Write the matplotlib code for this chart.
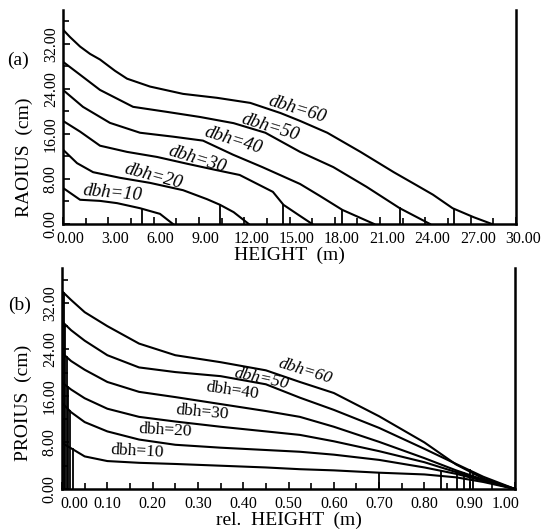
import matplotlib.pyplot as plt
import matplotlib.transforms as mtransforms
import numpy as np
from matplotlib.ticker import FormatStrFormatter

plt.rcParams['font.family'] = ['Liberation Serif', 'DejaVu Serif']

# ---- panel (a): radius vs height, one list pair per dbh class ----
h10 = [0, 1.13, 2.45, 3.58, 5.1, 6.42, 7.28]
r10 = [6.4, 4.3, 4.1, 3.7, 2.8, 1.8, 0]
h20 = [0, 0.93, 1.99, 3.77, 5.76, 7.95, 9.54, 10.4, 11.3, 12.3]
r20 = [13.2, 10.8, 9.2, 8.2, 7.3, 6.0, 4.4, 3.4, 2.1, 0]
h30 = [0, 1.13, 2.45, 4.24, 6.23, 8.21, 10.1, 11.7, 13.9, 14.6, 15.6, 16.5]
r30 = [18.3, 16.4, 13.9, 12.8, 11.9, 10.7, 9.6, 8.7, 5.7, 3.4, 1.6, 0]
h40 = [0, 1.32, 3.11, 5.1, 7.3, 9.27, 11.26, 13.2, 15.7, 17.0, 18.5, 20.6]
r40 = [23.8, 20.8, 17.95, 16.2, 15.5, 14.8, 12.3, 10.1, 7.1, 5.0, 2.5, 0]
h50 = [0, 1.13, 2.45, 4.64, 6.89, 9.07, 11.3, 13.4, 15.7, 17.9, 20.1, 22.3, 24.3]
r50 = [28.8, 26.5, 23.8, 20.8, 19.9, 19.0, 17.9, 16.2, 12.8, 10.1, 6.6, 2.8, 0]
h60 = [0, 0.46, 1.13, 1.79, 2.45, 3.44, 4.24, 5.76, 7.95, 10.2, 12.4, 14.4,
       15.7, 17.5, 19.7, 21.9, 23.4, 24.5, 25.8, 27.2, 28.4]
r60 = [34.5, 33.2, 31.5, 30.2, 29.2, 27.2, 25.8, 24.4, 23.1, 22.4, 21.5, 19.7,
       18.3, 16.2, 12.8, 9.2, 6.9, 5.2, 2.8, 1.2, 0]
crown_a = [5.2, 10.4, 14.6, 18.5, 22.3, 25.9]

# ---- panel (b): radius vs relative height ----
rel_h = [0, 0.02, 0.05, 0.10, 0.17, 0.25, 0.35, 0.45, 0.525, 0.60, 0.70, 0.80, 0.87, 0.93, 1.0]
b10 = [7.9, 7.0, 5.6, 4.8, 4.5, 4.3, 4.0, 3.7, 3.4, 3.2, 2.8, 2.5, 2.0, 1.2, 0]
b20 = [14.8, 13.2, 11.5, 9.9, 8.5, 7.6, 7.1, 6.7, 6.4, 5.9, 5.0, 3.7, 2.6, 1.4, 0]
b30 = [18.3, 17.1, 15.6, 13.8, 12.4, 11.6, 10.7, 9.9, 9.3, 8.2, 6.5, 4.6, 2.9, 1.5, 0]
b40 = [23.4, 22.0, 20.5, 18.4, 16.7, 15.8, 14.6, 13.4, 12.4, 10.7, 8.1, 5.3, 3.2, 1.6, 0]
b50 = [28.8, 27.3, 25.5, 23.0, 20.9, 20.1, 19.4, 18.0, 15.7, 13.6, 10.5, 6.9, 4.3, 2.1, 0]
b60 = [34.0, 32.5, 30.4, 28.0, 25.0, 23.0, 21.8, 20.4, 18.4, 16.5, 12.5, 8.0, 4.2, 1.8, 0]
crown_b = [0.70, 0.837, 0.872, 0.887, 0.90, 0.907]
butt_b = [0.024, 0.017, 0.013, 0.010, 0.007, 0.004]

dbh = [10, 20, 30, 40, 50, 60]
curves_a = [(h10, r10), (h20, r20), (h30, r30), (h40, r40), (h50, r50), (h60, r60)]
curves_b = [b10, b20, b30, b40, b50, b60]

# label placement (x, y, angle)
lab_a = [(3.3, 5.5, -5), (6.0, 8.4, -15), (8.9, 11.4, -17),
         (11.3, 14.9, -17), (13.7, 17.1, -17), (15.5, 20.3, -17)]
lab_b = [(0.166, 6.4, -3), (0.227, 10.0, -3), (0.31, 13.2, -5),
         (0.375, 16.9, -8), (0.44, 19.0, -12), (0.536, 20.3, -17)]

fig = plt.figure(figsize=(5.46, 5.30), dpi=100)
ax1 = fig.add_axes([0.1154, 0.5774, 0.8297, 0.4038])
ax2 = fig.add_axes([0.1136, 0.0774, 0.8297, 0.417])


def style(ax, xmax, major, minor):
    ax.set_xlim(0, xmax)
    ax.set_ylim(0, 38)
    ax.spines['top'].set_visible(False)
    for s in ['left', 'bottom', 'right']:
        ax.spines[s].set_linewidth(1.8)
    ax.set_xticks(np.arange(0, xmax + 1e-9, major))
    ax.set_xticks(np.arange(0, xmax + 1e-9, minor), minor=True)
    ax.xaxis.set_major_formatter(FormatStrFormatter('%.2f'))
    ax.set_yticks([0, 8, 16, 24, 32])
    ax.set_yticks(np.arange(0, 37, 4), minor=True)
    ax.yaxis.set_major_formatter(FormatStrFormatter('%.2f'))
    ax.tick_params(direction='in', which='both', width=1.2, labelsize=11.5, pad=3)
    ax.tick_params(axis='x', pad=5)
    ax.tick_params(which='major', length=5)
    ax.tick_params(which='minor', length=4)
    plt.setp(ax.get_yticklabels(), rotation=90, va='center')


def shift(lab, dx):
    off = mtransforms.ScaledTranslation(dx / 100, 0, fig.dpi_scale_trans)
    lab.set_transform(lab.get_transform() + off)


style(ax1, 30, 3, 1.5)
style(ax2, 1.0, 0.1, 0.05)

# tick labels of the scan sit a little right of their ticks in (a)
for t in ax1.xaxis.get_major_ticks():
    shift(t.label1, 7)
ticks_b = ax2.xaxis.get_major_ticks()
shift(ticks_b[0].label1, 12)
shift(ticks_b[-1].label1, -9)

for i, (h, r) in enumerate(curves_a):
    ax1.plot(h, r, color='black', lw=1.5)
    top = np.interp(crown_a[i], h, r)
    ax1.plot([crown_a[i], crown_a[i]], [0, top], color='black', lw=1.3)
    x, y, a = lab_a[i]
    ax1.text(x, y, 'dbh=%d' % dbh[i], rotation=a, style='italic',
             fontsize=13.5, ha='center', va='center')

for i, r in enumerate(curves_b):
    ax2.plot(rel_h, r, color='black', lw=1.5)
    top = np.interp(crown_b[i], rel_h, r)
    ax2.plot([crown_b[i], crown_b[i]], [0, top], color='black', lw=1.3)
    top = np.interp(butt_b[i], rel_h, r)
    ax2.plot([butt_b[i], butt_b[i]], [0, top], color='black', lw=1.3)
    x, y, a = lab_b[i]
    ax2.text(x, y, 'dbh=%d' % dbh[i], rotation=a,
             style='italic' if dbh[i] >= 50 else 'normal',
             fontsize=12.5, ha='center', va='center')

ax1.set_xlabel('HEIGHT  (m)', fontsize=14, labelpad=0)
ax2.set_xlabel('rel.  HEIGHT  (m)', fontsize=14, labelpad=0)
ax1.set_ylabel('RAOIUS  (cm)', fontsize=14)
ax2.set_ylabel('PROIUS  (cm)', fontsize=14)
ax1.yaxis.set_label_coords(-0.066, 0.31)
ax2.yaxis.set_label_coords(-0.066, 0.39)

fig.text(0.033, 0.887, '(a)', fontsize=14, ha='center', va='center')
fig.text(0.035, 0.423, '(b)', fontsize=14, ha='center', va='center')

fig.savefig('out.png', dpi=100)
